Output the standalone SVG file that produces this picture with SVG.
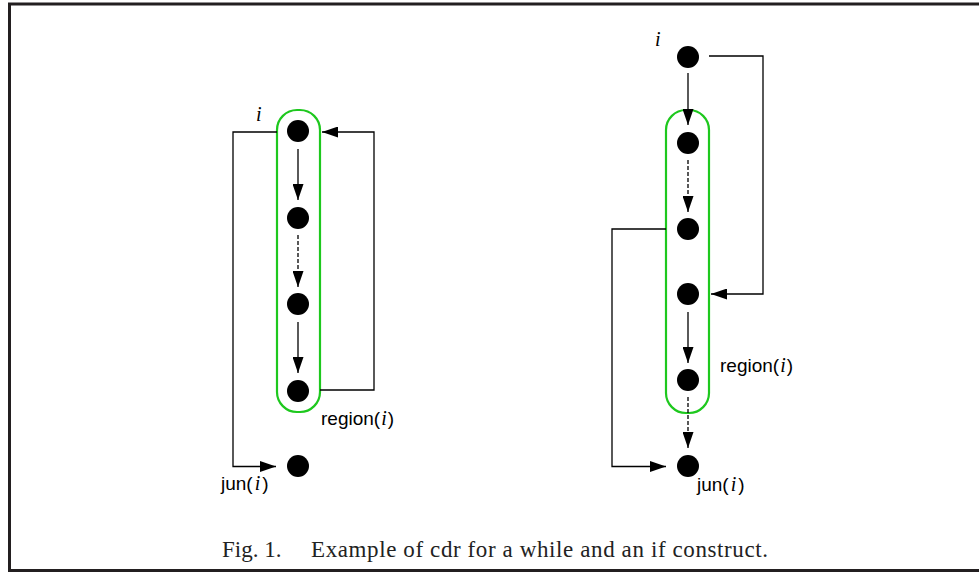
<svg xmlns="http://www.w3.org/2000/svg" width="979" height="574" viewBox="0 0 979 574">
<defs>
<marker id="ah" markerWidth="16" markerHeight="11" refX="16" refY="5.5" orient="auto" markerUnits="userSpaceOnUse">
<path d="M0,0 L16,5.5 L0,11 Z" fill="#000"/>
</marker>
<style>
.node{fill:#000}
.region{fill:none;stroke:#1ec81e;stroke-width:2.2}
.edge{fill:none;stroke:#000;stroke-width:1.3}
.arr{marker-end:url(#ah)}
.dash{stroke-dasharray:4,2}
.lbl{font-family:"Liberation Sans",Arial,sans-serif;font-size:19px;fill:#000}
.it{font-family:"Liberation Serif","Times New Roman",serif;font-style:italic;font-size:20px}
.cap{font-family:"Liberation Serif","Times New Roman",serif;font-size:23px;fill:#222}
.frame{stroke:#231f20;stroke-width:3;fill:none}
</style>
</defs>
<rect width="979" height="574" fill="#fff"/>
<path class="frame" d="M979,4 H9.5 V570.5 H979"/>

<g id="regions">
<rect class="region" x="277" y="110" width="43" height="302" rx="20"/>
<rect class="region" x="666" y="110" width="43" height="303" rx="20"/>
</g>

<g id="connectors">
<line class="edge arr" x1="298" y1="149" x2="298" y2="200"/>
<line class="edge arr dash" x1="298" y1="235" x2="298" y2="287"/>
<line class="edge arr" x1="298" y1="322" x2="298" y2="373"/>
<polyline class="edge arr" points="320,390 374,390 374,132 322,132"/>
<polyline class="edge arr" points="277,132 233,132 233,466.5 276,466.5"/>

<line class="edge arr" x1="688" y1="73" x2="688" y2="125"/>
<line class="edge arr dash" x1="688" y1="160" x2="688" y2="212"/>
<line class="edge arr" x1="688" y1="312" x2="688" y2="363"/>
<line class="edge arr dash" x1="688" y1="397" x2="688" y2="448"/>
<polyline class="edge arr" points="709,56 763,56 763,294 711,294"/>
<polyline class="edge arr" points="666,229 612,229 612,466.5 666,466.5"/>
</g>

<g id="n1"><circle class="node" cx="298" cy="131" r="11"/><text class="it" x="256" y="121">i</text></g>
<g id="n2"><circle class="node" cx="298" cy="218" r="11"/></g>
<g id="n3"><circle class="node" cx="298" cy="304" r="11"/></g>
<g id="n4"><circle class="node" cx="298" cy="391" r="11"/><text class="lbl" x="321" y="425">region(<tspan class="it" dx="1">i</tspan><tspan dx="1">)</tspan></text></g>
<g id="n5"><circle class="node" cx="298" cy="466" r="11"/><text class="lbl" x="221" y="490">jun(<tspan class="it" dx="2">i</tspan><tspan dx="2">)</tspan></text></g>

<g id="m1"><circle class="node" cx="688" cy="57" r="11"/><text class="it" x="655" y="46">i</text></g>
<g id="m2"><circle class="node" cx="688" cy="143" r="11"/></g>
<g id="m3"><circle class="node" cx="688" cy="229" r="11"/></g>
<g id="m4"><circle class="node" cx="688" cy="294" r="11"/></g>
<g id="m5"><circle class="node" cx="688" cy="380" r="11"/><text class="lbl" x="720" y="372">region(<tspan class="it" dx="1">i</tspan><tspan dx="1">)</tspan></text></g>
<g id="m6"><circle class="node" cx="688" cy="466" r="11"/><text class="lbl" x="697" y="491">jun(<tspan class="it" dx="2">i</tspan><tspan dx="2">)</tspan></text></g>

<g id="caption">
<text class="cap" x="222" y="557">Fig. 1.</text>
<text class="cap" x="311" y="557" textLength="457" lengthAdjust="spacing">Example of cdr for a while and an if construct.</text>
</g>
</svg>
